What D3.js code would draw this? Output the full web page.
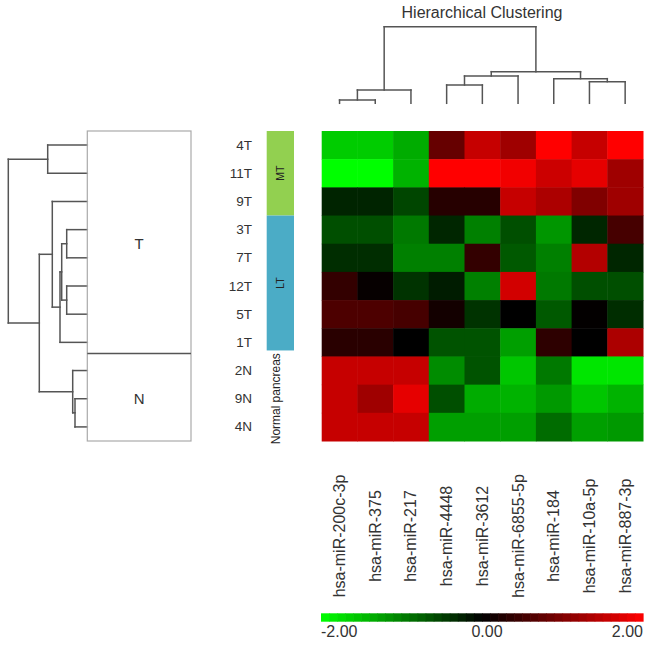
<!DOCTYPE html>
<html><head><meta charset="utf-8">
<script src="https://cdn.jsdelivr.net/npm/d3@7"></script>
<style>body{margin:0;background:#fff}svg{display:block}text{font-family:"Liberation Sans",Arial,sans-serif}</style>
</head><body>
<svg id="c" width="649" height="646"></svg>
<script>
const genes = ["hsa-miR-200c-3p","hsa-miR-375","hsa-miR-217","hsa-miR-4448","hsa-miR-3612","hsa-miR-6855-5p","hsa-miR-184","hsa-miR-10a-5p","hsa-miR-887-3p"];
const samples = ["4T","11T","9T","3T","7T","12T","5T","1T","2N","9N","4N"];
const values = [
  [-1.6,-1.6,-1.35, 0.8, 1.55, 1.25, 2.0, 1.55, 2.0],
  [-2.0,-2.0,-1.4, 2.0, 2.0, 1.9, 1.6, 1.8, 1.25],
  [-0.28,-0.28,-0.55, 0.3, 0.3, 1.55, 1.35, 1.0, 1.25],
  [-0.62,-0.62,-0.95,-0.3,-1.0,-0.62,-1.18,-0.3, 0.55],
  [-0.35,-0.35,-1.0,-1.0, 0.4,-0.7,-1.0, 1.4,-0.3],
  [0.4, 0.05,-0.4,-0.22,-1.0, 1.65,-0.95,-0.62,-0.62],
  [0.6, 0.6, 0.55, 0.15,-0.4, 0.0,-0.7, 0.02,-0.35],
  [0.32, 0.32, 0.0,-0.65,-0.65,-1.25, 0.35, 0.0, 1.35],
  [1.55, 1.55, 1.55,-1.1,-0.65,-1.55,-0.95,-1.8,-1.8],
  [1.55, 1.25, 1.8,-0.62,-1.35,-1.4,-1.2,-1.55,-1.4],
  [1.55, 1.55, 1.55,-1.25,-1.25,-1.25,-0.85,-1.25,-1.2]
];
// hclust-style merges: negative = leaf (1-based), positive = earlier merge (1-based); third = height
const colMerges = [[-1,-2,10],[1,-3,40],[-4,-5,55],[3,-6,82],[-8,-9,65],[-7,5,74],[4,6,95],[2,7,230]];
const rowMerges = [[-1,-2,39.6],[-4,-5,20.6],[-6,-7,20.6],[2,3,25.6],[4,-8,27.3],[-3,5,35],[-10,-11,12.3],[-9,7,14.6],[6,8,48],[1,9,79]];
const groups = [{name:"MT",start:0,end:3,color:"#92d050"},{name:"LT",start:3,end:8,color:"#4bacc6"}];
const normalLabel = "Normal pancreas";
const clusterGroups = [{name:"T",start:0,end:8},{name:"N",start:8,end:11}];
const legendTicks = ["-2.00","0.00","2.00"];
const legendTickValues = [-2,0,2];
const title = "Hierarchical Clustering";

const svg = d3.select("#c");
const x = d3.scaleBand().domain(d3.range(genes.length)).range([321.7,643]);
const y = d3.scaleBand().domain(d3.range(samples.length)).range([131,441]);
const color = d3.scaleLinear().domain([-2,0,2]).range(["#00ff00","#000000","#ff0000"]).clamp(true);

// heatmap
const g = svg.append("g");
values.forEach((row,i)=>row.forEach((v,j)=>{
  g.append("rect").attr("x",x(j)).attr("y",y(i)).attr("width",x.bandwidth()+0.5).attr("height",y.bandwidth()+0.5).attr("fill",color(v));
}));

// title
svg.append("text").attr("x",482).attr("y",18).attr("text-anchor","middle").attr("font-size",16).attr("fill","#333").text(title);

// dendrogram helper
function layout(merges, leafPos){
  const nodes = [];
  function pos(id){ return id<0 ? {p:leafPos(-id-1),h:0} : nodes[id-1]; }
  const segs = [];
  merges.forEach(([a,b,h])=>{
    const A=pos(a), B=pos(b);
    segs.push([A.p,A.h,A.p,h],[B.p,B.h,B.p,h],[A.p,h,B.p,h]);
    nodes.push({p:(A.p+B.p)/2,h});
  });
  return segs;
}
// top dendrogram
const hTop = d3.scaleLinear().domain([0,230]).range([103.3,26.7]);
const topSegs = layout(colMerges, j=>x(j)+x.bandwidth()/2);
svg.append("g").selectAll("line").data(topSegs).join("line")
  .attr("x1",d=>d[0]).attr("y1",d=>hTop(d[1])).attr("x2",d=>d[2]).attr("y2",d=>hTop(d[3]))
  .attr("stroke","#555").attr("stroke-width",1.5).attr("stroke-linecap","square");

// left dendrogram
const hLeft = d3.scaleLinear().domain([0,79]).range([87.3,8.3]);
const leftSegs = layout(rowMerges, i=>y(i)+y.bandwidth()/2);
svg.append("g").selectAll("line").data(leftSegs).join("line")
  .attr("y1",d=>d[0]).attr("x1",d=>hLeft(d[1])).attr("y2",d=>d[2]).attr("x2",d=>hLeft(d[3]))
  .attr("stroke","#555").attr("stroke-width",1.5).attr("stroke-linecap","square");

// cluster box
const bx0=87.3, bx1=191;
svg.append("rect").attr("x",bx0).attr("y",y.range()[0]).attr("width",bx1-bx0).attr("height",y.range()[1]-y.range()[0])
  .attr("fill","none").attr("stroke","#aaa").attr("stroke-width",1.2);
clusterGroups.forEach((c,k)=>{
  const y0=y(c.start), y1=c.end<samples.length?y(c.end):y.range()[1];
  if(k>0) svg.append("line").attr("x1",bx0).attr("x2",bx1).attr("y1",y0-3).attr("y2",y0-3).attr("stroke","#555").attr("stroke-width",1.5);
  svg.append("text").attr("x",(bx0+bx1)/2).attr("y",(y0+y1)/2).attr("text-anchor","middle").attr("dominant-baseline","central")
    .attr("font-size",15).attr("fill","#333").text(c.name);
});

// row labels
svg.append("g").selectAll("text").data(samples).join("text")
  .attr("x",252).attr("y",(d,i)=>y(i)+y.bandwidth()/2).attr("text-anchor","end").attr("dominant-baseline","central")
  .attr("font-size",13.5).attr("fill","#333").text(d=>d);

// sidebar
const sx0=266.7, sx1=294;
groups.forEach(gr=>{
  const y0=y(gr.start), y1=y(gr.end)-(gr.end===8?6:0);
  svg.append("rect").attr("x",sx0).attr("y",y0).attr("width",sx1-sx0).attr("height",y1-y0).attr("fill",gr.color);
  svg.append("text").attr("transform",`translate(${(sx0+sx1)/2},${(y0+y1)/2}) rotate(-90)`)
    .attr("text-anchor","middle").attr("dominant-baseline","central").attr("font-size",10.5).attr("fill","#222").text(gr.name);
});
svg.append("text").attr("transform",`translate(276,${(y(8)-6+y.range()[1])/2+3}) rotate(-90)`)
  .attr("text-anchor","middle").attr("dominant-baseline","central").attr("font-size",12).attr("fill","#222")
  .attr("textLength",91).attr("lengthAdjust","spacingAndGlyphs").text(normalLabel);

// column labels
svg.append("g").selectAll("text").data(genes).join("text")
  .attr("transform",(d,j)=>`translate(${x(j)+x.bandwidth()/2},536) rotate(-90)`)
  .attr("text-anchor","middle").attr("dominant-baseline","central")
  .attr("font-size",16).attr("fill","#333").text(d=>d);

// color legend
const lx = d3.scaleLinear().domain([-2,2]).range([321,643]);
const steps = d3.range(-2,2,4/40);
svg.append("g").selectAll("rect").data(steps).join("rect")
  .attr("x",d=>lx(d)).attr("y",613.3).attr("width",lx(4/40)-lx(0)+0.6).attr("height",8.4).attr("fill",d=>color(d+2/40));
svg.append("g").selectAll("text").data(legendTicks).join("text")
  .attr("x",(d,i)=>i===1?lx(legendTickValues[i])+5:lx(legendTickValues[i])).attr("y",637)
  .attr("text-anchor",(d,i)=>i===0?"start":i===2?"end":"middle")
  .attr("font-size",16).attr("fill","#333").text(d=>d);
</script>
</body></html>
